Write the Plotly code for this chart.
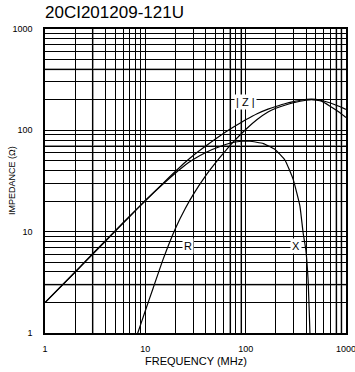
import math
import plotly.graph_objects as go

# ---- data ----
freq_z = [1, 2, 3, 5, 7, 10, 15, 20, 25, 30, 40, 50, 62, 75, 100, 130, 167, 200, 250, 300, 350, 454, 570, 700, 850, 1000]
z_vals = [2.0, 4.0, 6.1, 10.2, 14.2, 20.3, 30.0, 39.5, 48.5, 56.5, 70, 82, 95, 107, 127, 146, 162, 172, 184, 192, 198, 203, 197, 186, 173, 161]

freq_r = [7, 8.4, 10, 12, 15, 20, 25, 30, 40, 50, 62, 75, 100, 130, 167, 200, 250, 300, 400, 454, 570, 700, 850, 1000]
r_vals = [0.6, 1.0, 1.66, 2.8, 5.3, 10.8, 16.9, 23.2, 35.7, 47.7, 61.8, 76.5, 102, 128, 152, 165, 178, 187, 198, 201, 194, 172, 152, 134]

freq_x = [1, 2, 3, 5, 7, 10, 15, 20, 25, 30, 40, 50, 62, 75, 91, 110, 150, 195, 246, 297, 347, 374, 398, 420, 437, 445]
x_vals = [2.0, 4.0, 6.0, 10.1, 14.2, 20.2, 29.5, 38, 45.5, 51.5, 60.5, 66.5, 72, 76, 78, 78, 74, 65, 51, 33, 18, 9.7, 6.6, 3.2, 1.0, 0.4]

x_tick_vals = [1, 10, 100, 1000]
x_tick_text = ["1", "10", "100", "1000"]
y_tick_vals = [1, 10, 100, 1000]
y_tick_text = ["1", "10", "100", "1000"]
minor_grid = [2, 3, 4, 5, 6, 7, 8, 9, 20, 30, 40, 50, 60, 70, 80, 90, 200, 300, 400, 500, 600, 700, 800, 900]
gray_x = [3, 70, 90, 800, 900]
gray_y = [3, 70, 400]

label_text = ["| Z |", "R", "X"]
label_freq = [100, 26.5, 320]
label_imp = [190, 7.3, 7.3]

title_text = "20CI201209-121U"
x_title = "FREQUENCY (MHz)"
y_title = "IMPEDANCE (\u03a9)"

FONT = "Liberation Sans, Arial, sans-serif"

fig = go.Figure()
line_style = dict(color="black", width=1.2, shape="spline", smoothing=0.4)
fig.add_trace(go.Scatter(x=freq_z, y=z_vals, mode="lines", line=line_style, name="|Z|"))
fig.add_trace(go.Scatter(x=freq_r, y=r_vals, mode="lines", line=line_style, name="R"))
fig.add_trace(go.Scatter(x=freq_x, y=x_vals, mode="lines", line=line_style, name="X"))

shapes = []
for gx in gray_x:
    shapes.append(dict(type="line", xref="x", yref="paper", x0=gx, x1=gx, y0=0, y1=1,
                       line=dict(color="#8a8a8a", width=2), layer="below"))
for gy in gray_y:
    shapes.append(dict(type="line", xref="paper", yref="y", x0=0, x1=1, y0=gy, y1=gy,
                       line=dict(color="#8a8a8a", width=2), layer="below"))

annotations = []
for t, fx, iy in zip(label_text, label_freq, label_imp):
    annotations.append(dict(x=math.log10(fx), y=math.log10(iy), xref="x", yref="y",
                            text=t, showarrow=False, bgcolor="white",
                            font=dict(family=FONT, size=11, color="black"), borderpad=1))
annotations.append(dict(x=0, y=1, xref="paper", yref="paper", xanchor="left", yanchor="bottom",
                        yshift=5, xshift=-2, text=title_text, showarrow=False,
                        font=dict(family=FONT, size=17, color="black")))
annotations.append(dict(x=0.5, y=0, xref="paper", yref="paper", xanchor="center", yanchor="middle",
                        yshift=-28, text=x_title, showarrow=False,
                        font=dict(family=FONT, size=11, color="black")))
annotations.append(dict(x=0, y=0.5, xref="paper", yref="paper", xanchor="center", yanchor="middle",
                        xshift=-33, text=y_title, textangle=-90, showarrow=False,
                        font=dict(family=FONT, size=9, color="black")))

fig.update_layout(
    width=355, height=372,
    margin=dict(l=45, r=9, t=29, b=39),
    paper_bgcolor="white", plot_bgcolor="white",
    showlegend=False,
    shapes=shapes,
    annotations=annotations,
    font=dict(family=FONT, color="black"),
)
fig.update_xaxes(
    type="log", range=[0, 3], automargin=False,
    tickvals=x_tick_vals, ticktext=x_tick_text,
    tickfont=dict(family=FONT, size=9, color="black"),
    ticks="", ticklabelstandoff=6, ticklabeloverflow="allow",
    showgrid=True, gridcolor="black", gridwidth=1,
    minor=dict(tickvals=minor_grid, showgrid=True, gridcolor="black", gridwidth=1, ticks=""),
    showline=True, linecolor="black", linewidth=1.5, mirror=True,
    zeroline=False,
)
fig.update_yaxes(
    type="log", range=[0, 3], automargin=False,
    tickvals=y_tick_vals, ticktext=y_tick_text,
    tickfont=dict(family=FONT, size=9, color="black"),
    ticks="", ticklabelstandoff=9, ticklabeloverflow="allow",
    showgrid=True, gridcolor="black", gridwidth=1,
    minor=dict(tickvals=minor_grid, showgrid=True, gridcolor="black", gridwidth=1, ticks=""),
    showline=True, linecolor="black", linewidth=1.5, mirror=True,
    zeroline=False,
)

fig.write_html("out.html")
